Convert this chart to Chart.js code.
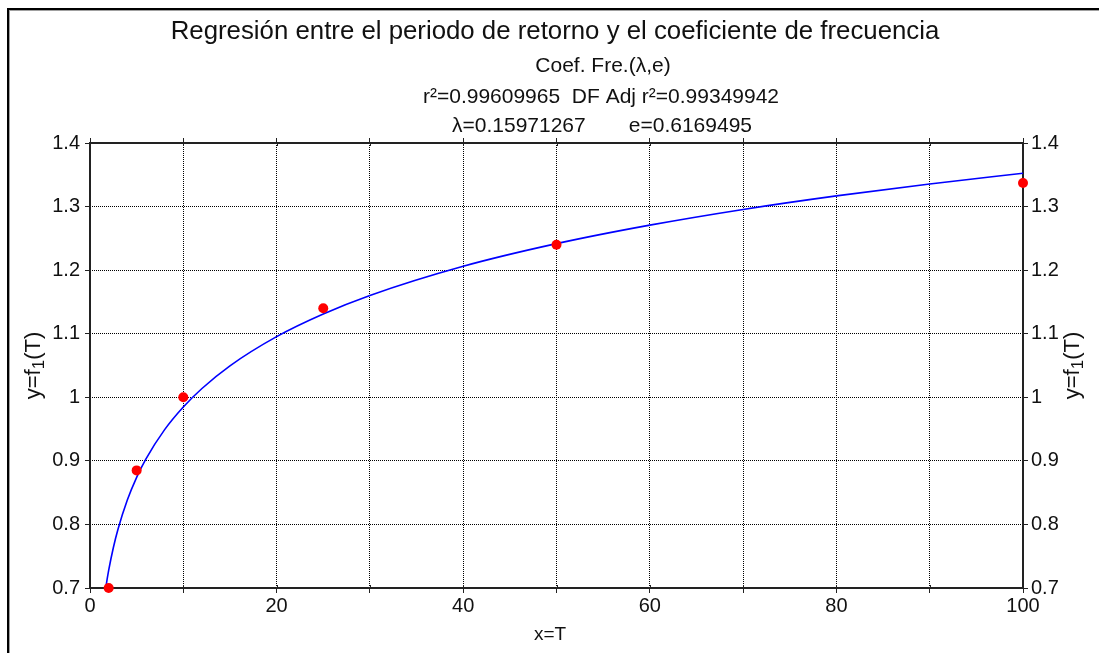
<!DOCTYPE html>
<html>
<head>
<meta charset="utf-8">
<script src="https://cdn.jsdelivr.net/npm/chart.js@4.4.1/dist/chart.umd.min.js"></script>
<style>
  html, body { margin: 0; padding: 0; background: #fff; overflow: hidden; }
  #wrap { position: relative; width: 1099px; height: 653px; }
</style>
</head>
<body>
<div id="wrap"><canvas id="c" width="1099" height="653"></canvas></div>
<script>
// Observed frequency coefficients by return period
const returnPeriods = [2, 5, 10, 25, 50, 100];
const frequencyCoef = [0.70, 0.885, 1.0, 1.14, 1.24, 1.337];

// Fitted regression curve, sampled along T
const fitT = [1.7, 2, 2.5, 3, 4, 5, 6, 8, 10, 12, 15, 20, 25, 30, 40, 50, 60, 70, 80, 90, 100];
const fitY = [0.7017, 0.7276, 0.7633, 0.7924, 0.8383, 0.8740, 0.9031, 0.9491, 0.9847, 1.0138,
              1.0495, 1.0954, 1.1310, 1.1602, 1.2061, 1.2417, 1.2708, 1.2955, 1.3168, 1.3356, 1.3524];

// Axis ticks
const xTicks = [0, 10, 20, 30, 40, 50, 60, 70, 80, 90, 100];
const xTickLabels = ['0', '', '20', '', '40', '', '60', '', '80', '', '100'];
const yTicks = [0.7, 0.8, 0.9, 1.0, 1.1, 1.2, 1.3, 1.4];
const yTickLabels = ['0.7', '0.8', '0.9', '1', '1.1', '1.2', '1.3', '1.4'];

// Header text
const titleText = 'Regresión entre el periodo de retorno y el coeficiente de frecuencia';
const subtitleText = 'Coef. Fre.(λ,e)';
const statsText = 'r²=0.99609965  DF Adj r²=0.99349942';
const paramsLambda = 'λ=0.15971267';
const paramsE = 'e=0.6169495';
const xTitle = 'x=T';
const yTitleMain = 'y=f';
const yTitleSub = '1';
const yTitleEnd = '(T)';

const FONT = "'Liberation Sans', Arial, sans-serif";
const tickFont = { family: FONT, size: 20 };

const setTicks = (vals) => (scale) => { scale.ticks = vals.map(v => ({ value: v })); };

const decorations = {
  id: 'decorations',
  beforeDatasetsDraw(chart) {
    const { ctx, chartArea: a } = chart;
    ctx.save();
    // plot frame
    ctx.strokeStyle = '#222';
    ctx.lineWidth = 2;
    ctx.strokeRect(a.left, a.top, a.right - a.left, a.bottom - a.top);
    // short ticks crossing into the plot on the bottom and top edges
    ctx.lineWidth = 1;
    ctx.beginPath();
    const xs = chart.scales.x;
    xTicks.forEach(v => {
      const px = Math.round(xs.getPixelForValue(v)) + 0.5;
      ctx.moveTo(px, a.bottom - 3); ctx.lineTo(px, a.bottom);
      ctx.moveTo(px, a.top); ctx.lineTo(px, a.top + 3);
    });
    ctx.stroke();
    ctx.restore();
  },
  afterDraw(chart) {
    const { ctx, chartArea: a } = chart;
    ctx.save();
    // outer panel edge
    ctx.fillStyle = '#000';
    ctx.fillRect(7, 8, 2, 660);
    ctx.fillRect(7, 8, 1100, 2);
    ctx.fillStyle = '#a0a0a0';
    ctx.fillRect(9, 10, 1, 660);
    ctx.fillRect(9, 10, 1100, 1);

    ctx.fillStyle = '#111';
    ctx.textAlign = 'center';
    ctx.textBaseline = 'middle';
    ctx.font = '25.8px ' + FONT;
    ctx.fillText(titleText, 555, 32);
    ctx.font = '21px ' + FONT;
    ctx.fillText(subtitleText, 603, 66);
    ctx.fillText(statsText, 601, 97);
    // parameter line: two values with a wide gap between them
    ctx.textAlign = 'left';
    ctx.fillText(paramsLambda, 452, 126);
    ctx.textAlign = 'right';
    ctx.fillText(paramsE, 752, 126);

    ctx.textAlign = 'center';
    ctx.font = '19px ' + FONT;
    ctx.fillText(xTitle, 550, 635);

    const cy = (a.top + a.bottom) / 2;
    const drawY = (cx) => {
      ctx.save();
      ctx.translate(cx, cy);
      ctx.rotate(-Math.PI / 2);
      ctx.textAlign = 'left';
      ctx.font = '22px ' + FONT;
      const w1 = ctx.measureText(yTitleMain).width;
      const w3 = ctx.measureText(yTitleEnd).width;
      ctx.font = '17px ' + FONT;
      const w2 = ctx.measureText(yTitleSub).width;
      let x = -(w1 + w2 + w3) / 2;
      ctx.font = '22px ' + FONT;
      ctx.fillText(yTitleMain, x, 0);
      x += w1;
      ctx.font = '17px ' + FONT;
      ctx.fillText(yTitleSub, x, 5);
      x += w2;
      ctx.font = '22px ' + FONT;
      ctx.fillText(yTitleEnd, x, 0);
      ctx.restore();
    };
    drawY(34);
    drawY(1073);
    ctx.restore();
  }
};

new Chart(document.getElementById('c'), {
  type: 'scatter',
  data: {
    datasets: [
      {
        type: 'line',
        label: 'Ajuste',
        data: fitT.map((t, i) => ({ x: t, y: fitY[i] })),
        borderColor: '#0000ff',
        borderWidth: 1.6,
        pointRadius: 0,
        fill: false,
        cubicInterpolationMode: 'monotone',
        order: 2
      },
      {
        label: 'Coef. Fre.',
        data: returnPeriods.map((t, i) => ({ x: t, y: frequencyCoef[i] })),
        backgroundColor: '#ff0000',
        borderColor: '#ff0000',
        pointRadius: 5,
        pointBorderWidth: 0,
        clip: false,
        order: 1
      }
    ]
  },
  options: {
    responsive: false,
    animation: false,
    devicePixelRatio: 1,
    layout: { padding: 0 },
    plugins: { legend: { display: false }, tooltip: { enabled: false }, title: { display: false } },
    scales: {
      x: {
        type: 'linear', position: 'bottom', min: 0, max: 100,
        afterBuildTicks: setTicks(xTicks),
        afterFit: (s) => { s.height = 65; },
        grid: { color: '#000', lineWidth: 1, tickLength: 5, tickColor: '#222', tickBorderDash: [] },
        border: { display: false, dash: [1, 1] },
        ticks: { font: tickFont, color: '#111', padding: 1, maxRotation: 0, autoSkip: false,
                 callback: (v, i) => xTickLabels[i] }
      },
      xTop: {
        type: 'linear', position: 'top', min: 0, max: 100,
        afterBuildTicks: setTicks(xTicks),
        afterFit: (s) => { s.height = 143; },
        grid: { drawOnChartArea: false, tickLength: 5, tickColor: '#222' },
        border: { display: false },
        ticks: { font: tickFont, autoSkip: false, callback: () => '' }
      },
      y: {
        type: 'linear', position: 'left', min: 0.7, max: 1.4,
        afterBuildTicks: setTicks(yTicks),
        afterFit: (s) => { s.width = 90; },
        grid: { color: '#000', lineWidth: 1, tickLength: 5, tickColor: '#222', tickBorderDash: [] },
        border: { display: false, dash: [1, 1] },
        ticks: { font: tickFont, color: '#111', padding: 5, autoSkip: false,
                 callback: (v, i) => yTickLabels[i] }
      },
      yRight: {
        type: 'linear', position: 'right', min: 0.7, max: 1.4,
        afterBuildTicks: setTicks(yTicks),
        afterFit: (s) => { s.width = 76; },
        grid: { drawOnChartArea: false, tickLength: 5, tickColor: '#222' },
        border: { display: false },
        ticks: { font: tickFont, color: '#111', padding: 3, autoSkip: false,
                 callback: (v, i) => yTickLabels[i] }
      }
    }
  },
  plugins: [decorations]
});
</script>
</body>
</html>
